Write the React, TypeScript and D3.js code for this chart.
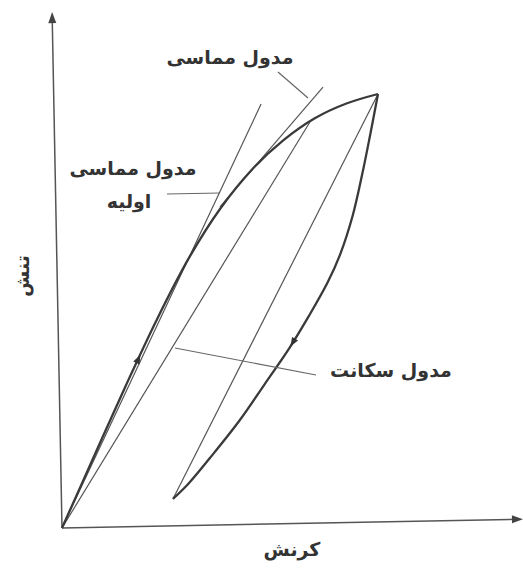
import React from "react";
import * as d3 from "d3";

// loading branch (strain, stress), peak normalised to 1
const loadStrain = [0, 0.1, 0.2, 0.3, 0.4, 0.5, 0.6, 0.7, 0.8, 0.9, 1.0];
const loadStress = [0, 0.163, 0.325, 0.48, 0.62, 0.735, 0.825, 0.893, 0.944, 0.978, 1.0];

// unloading branch, from the peak back down
const unloadStrain = [1.0, 0.975, 0.95, 0.92, 0.88, 0.84, 0.78, 0.72, 0.64, 0.56, 0.48, 0.4, 0.351];
const unloadStress = [1.0, 0.905, 0.815, 0.72, 0.63, 0.565, 0.487, 0.415, 0.33, 0.246, 0.172, 0.102, 0.067];

// straight modulus lines: [start, end]
const initialTangentStrain = [0, 0.63];
const initialTangentStress = [0, 0.977];
const tangentStrain = [0.5, 0.826];
const tangentStress = [0.74, 1.016];
const secantStrain = [0, 0.785];
const secantStress = [0, 0.936];
const reloadStrain = [0.351, 1.0];
const reloadStress = [0.067, 1.0];

// arrow markers along the branches (strain value)
const loadArrowStrain = 0.241;
const unloadArrowStrain = 0.731;

const axisStrainMax = 1.459;
const axisStressMax = 1.189;

const tangentLabel = "مدول مماسی";
const initialLabel = ["مدول مماسی", "اولیه"];
const secantLabel = "مدول سکانت";
const xLabel = "کرنش";
const yLabel = "تنش";

const width = 523;
const height = 568;
const ox = 62;
const oy = 528;

const x = d3.scaleLinear().domain([0, 1]).range([ox, 378]);
const y = d3.scaleLinear().domain([0, 1]).range([oy, 94]);

const zip = (xs: number[], ys: number[]) => xs.map((d, i) => [d, ys[i]] as [number, number]);

const smooth = d3
  .line<[number, number]>()
  .x((d) => x(d[0]))
  .y((d) => y(d[1]))
  .curve(d3.curveCatmullRom.alpha(0.5));

const straight = d3
  .line<[number, number]>()
  .x((d) => x(d[0]))
  .y((d) => y(d[1]));

function stressAt(xs: number[], ys: number[], s: number) {
  const pts = zip(xs, ys).sort((a, b) => a[0] - b[0]);
  const i = Math.max(1, d3.bisector((p: [number, number]) => p[0]).left(pts, s));
  const [x0, y0] = pts[i - 1];
  const [x1, y1] = pts[Math.min(i, pts.length - 1)];
  const t = x1 === x0 ? 0 : (s - x0) / (x1 - x0);
  return y0 + t * (y1 - y0);
}

function Arrow({ xs, ys, s, dir }: { xs: number[]; ys: number[]; s: number; dir: number }) {
  const px = x(s);
  const py = y(stressAt(xs, ys, s));
  const qx = x(s + dir * 0.01);
  const qy = y(stressAt(xs, ys, s + dir * 0.01));
  const ang = (Math.atan2(qy - py, qx - px) * 180) / Math.PI;
  return (
    <path
      d="M5,0 L-4,-3.5 L-4,3.5 Z"
      fill="#333"
      transform={`translate(${px},${py}) rotate(${ang})`}
    />
  );
}

const textStyle = {
  fontFamily: "'DejaVu Sans', 'Noto Sans', sans-serif",
  fontWeight: 700,
  fontSize: 19,
  fill: "#333",
};

export default function App() {
  const xEnd = ox + axisStrainMax * (378 - ox);
  const yEnd = oy - axisStressMax * (oy - 94);
  return (
    <svg
      width={width}
      height={height}
      style={{ position: "absolute", left: 0, top: 0, background: "#fff" }}
    >
      {/* axes, the scan is turned a little */}
      <g transform={`rotate(-1.1, ${ox}, ${oy})`} stroke="#555" strokeWidth={1.5}>
        <line x1={ox} y1={oy} x2={xEnd - 6} y2={oy} />
        <line x1={ox} y1={oy} x2={ox} y2={yEnd + 6} />
        <path d={`M${xEnd},${oy} L${xEnd - 11},${oy - 4} L${xEnd - 11},${oy + 4} Z`} fill="#444" stroke="none" />
        <path d={`M${ox},${yEnd} L${ox - 4},${yEnd + 11} L${ox + 4},${yEnd + 11} Z`} fill="#444" stroke="none" />
      </g>

      <g fill="none" stroke="#555" strokeWidth={1.2}>
        <path d={straight(zip(initialTangentStrain, initialTangentStress)) || ""} />
        <path d={straight(zip(tangentStrain, tangentStress)) || ""} />
        <path d={straight(zip(secantStrain, secantStress)) || ""} />
        <path d={straight(zip(reloadStrain, reloadStress)) || ""} />
      </g>

      <g fill="none" stroke="#3a3a3a" strokeWidth={2.3} strokeLinejoin="round">
        <path d={smooth(zip(loadStrain, loadStress)) || ""} />
        <path d={smooth(zip(unloadStrain, unloadStress)) || ""} />
      </g>

      <Arrow xs={loadStrain} ys={loadStress} s={loadArrowStrain} dir={1} />
      <Arrow xs={unloadStrain} ys={unloadStress} s={unloadArrowStrain} dir={-1} />

      {/* leaders */}
      <g stroke="#666" strokeWidth={1.2}>
        <line x1={278} y1={72} x2={308} y2={98} />
        <line x1={167} y1={194} x2={220} y2={193} />
        <line x1={175} y1={348} x2={316} y2={375} />
      </g>

      <g style={textStyle} textAnchor="middle">
        <text x={230} y={64} direction="rtl">{tangentLabel}</text>
        <text x={133} y={175} direction="rtl">{initialLabel[0]}</text>
        <text x={129} y={208} direction="rtl">{initialLabel[1]}</text>
        <text x={391} y={377} direction="rtl">{secantLabel}</text>
        <text x={292} y={556} direction="rtl">{xLabel}</text>
        <text x={0} y={0} direction="rtl" transform="translate(29,276) rotate(-90)">
          {yLabel}
        </text>
      </g>
    </svg>
  );
}
